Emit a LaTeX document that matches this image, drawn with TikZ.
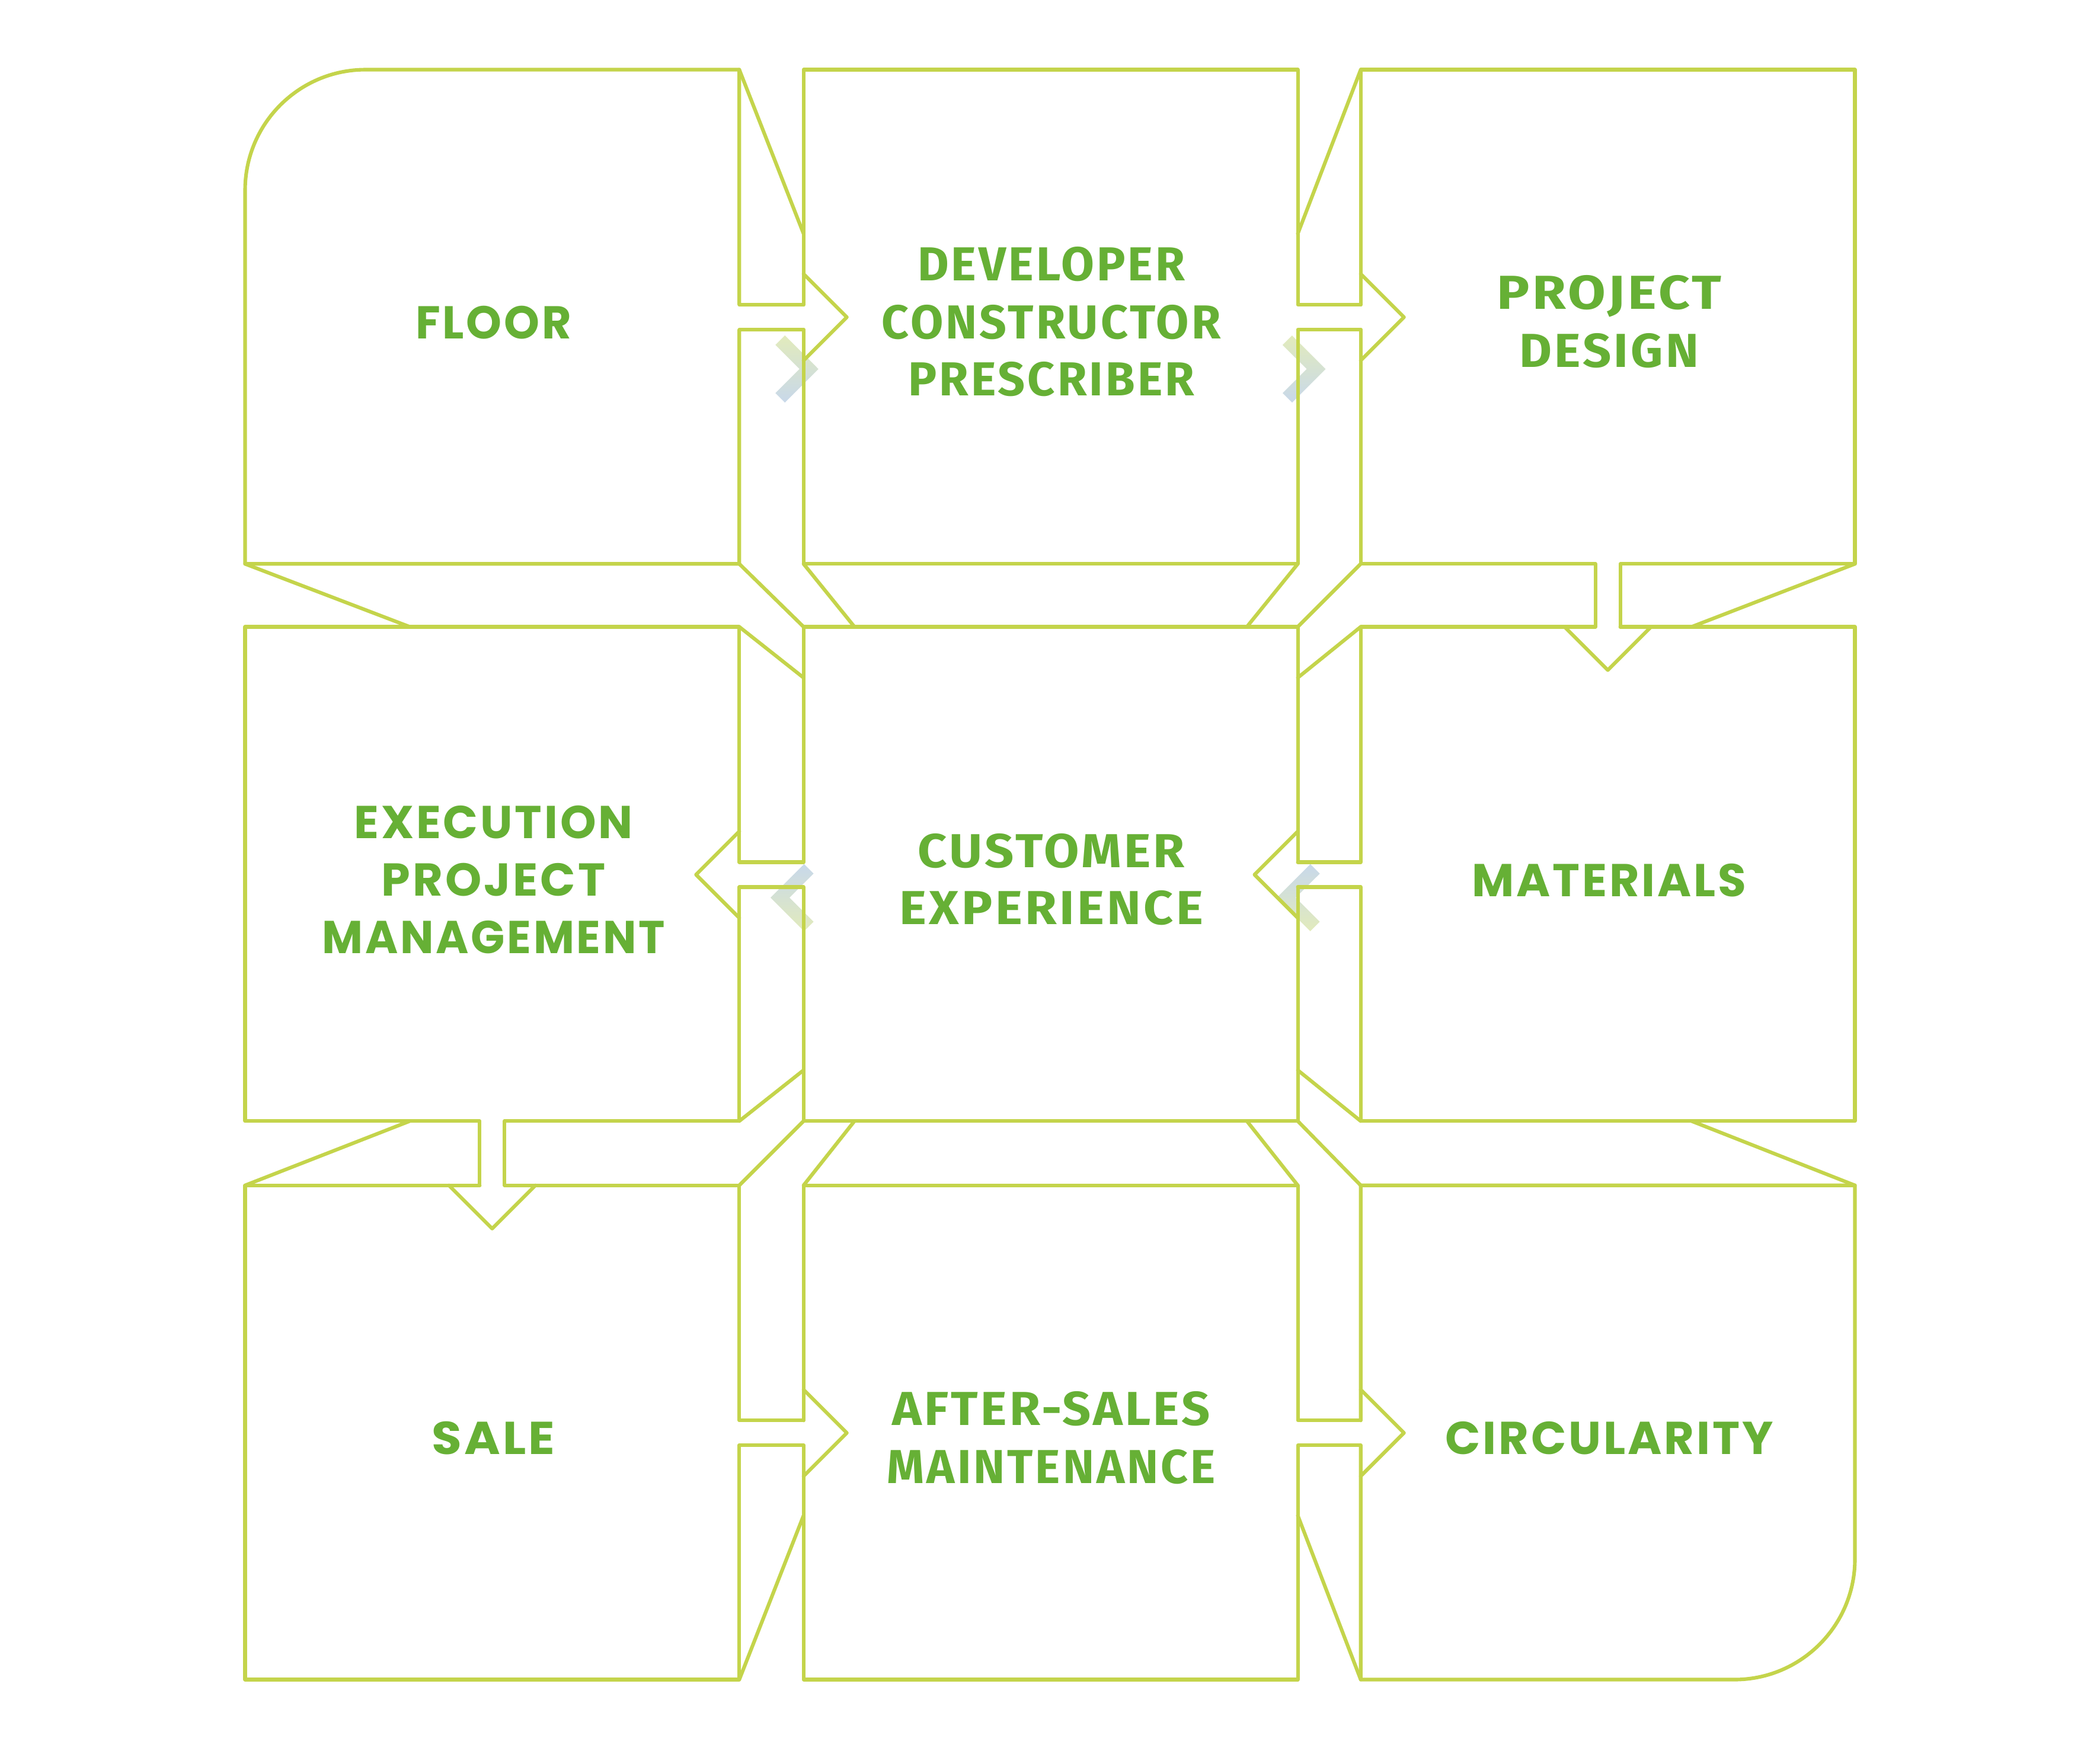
\documentclass[tikz,border=0pt]{standalone}
\usepackage{fontspec}
\usepackage{graphicx}
\newfontfamily\dinf{Fira Sans}[LetterSpace=5]
\newfontfamily\widef{Poppins}[LetterSpace=5]
\definecolor{linec}{RGB}{196,212,75}
\definecolor{txtc}{RGB}{102,176,53}
\definecolor{chg}{RGB}{226,235,188}
\definecolor{chb}{RGB}{200,216,234}
\newsavebox\fitbox
\newcommand\fitw[2]{\sbox\fitbox{#2}\pgfmathsetmacro\fitfac{#1/\the\wd\fitbox}\scalebox{\fitfac}[1]{\usebox\fitbox}}
\newcommand\chevright[4]{\shade[top color=#3,bottom color=#4]
  (#1-17.96,#2-25.04) -- (#1+7.07,#2) -- (#1-17.96,#2+25.04) -- (#1-25.04,#2+17.96) -- (#1-7.07,#2) -- (#1-25.04,#2-17.96) -- cycle;}
\newcommand\chevleft[4]{\shade[top color=#3,bottom color=#4]
  (#1+17.96,#2-25.04) -- (#1-7.07,#2) -- (#1+17.96,#2+25.04) -- (#1+25.04,#2+17.96) -- (#1+7.07,#2) -- (#1+25.04,#2-17.96) -- cycle;}
\tikzset{
  ln/.style={draw=linec, line width=1.35pt, line join=round, line cap=round},
  lbl/.style={text=txtc, inner sep=0pt, text height=12pt, text depth=0pt, anchor=center},
  dinlbl/.style={lbl, font=\dinf\bfseries\fontsize{17.8pt}{20pt}\selectfont},
  widelbl/.style={lbl, font=\widef\bfseries\fontsize{17.2pt}{20pt}\selectfont},
}
\begin{document}
\begin{tikzpicture}[x=0.5pt,y=-0.5pt]
\useasboundingbox (0,0) rectangle (1568,1307);
% chevrons (under the lines)
\chevright{604}{275.5}{chg}{chb}
\chevright{982.7}{275.5}{chg}{chb}
\chevleft{582.4}{670.2}{chb}{chg}
\chevleft{960.4}{670.2}{chb}{chg}
% FLOOR
\draw[ln] (600,227.5) -- (552,227.5) -- (552,52) -- (273,52) .. controls (223.3,52) and (183,92.3) .. (183,142) -- (183,421) -- (552,421) -- (552,246.1) -- (600,246.1);
% DEVELOPER
\draw[ln] (600,227.5) -- (600,52) -- (969,52) -- (969,227.5) -- (1016,227.5);
\draw[ln] (600,246.1) -- (600,421) -- (969,421) -- (969,246.1) -- (1016,246.1);
\draw[ln] (600,204.5) -- (632.3,236.8) -- (600,269.1);
% PROJECT DESIGN
\draw[ln] (1016,227.5) -- (1016,52) -- (1385,52) -- (1385,421) -- (1209.8,421) -- (1209.8,468);
\draw[ln] (1016,246.1) -- (1016,421) -- (1191.2,421) -- (1191.2,468);
\draw[ln] (1016,204.5) -- (1048.3,236.8) -- (1016,269.1);
% MATERIALS
\draw[ln] (1191.2,468) -- (1016,468) -- (1016,643.7) -- (969,643.7);
\draw[ln] (1209.8,468) -- (1385,468) -- (1385,837) -- (1016,837) -- (1016,662.3) -- (969,662.3);
\draw[ln] (1168.2,468) -- (1200.5,500.3) -- (1232.8,468);
% CUSTOMER EXPERIENCE
\draw[ln] (969,643.7) -- (969,468) -- (600,468) -- (600,643.7) -- (552,643.7);
\draw[ln] (969,662.3) -- (969,837) -- (600,837) -- (600,662.3) -- (552,662.3);
\draw[ln] (969,620.7) -- (936.7,653) -- (969,685.3);
% EXECUTION
\draw[ln] (552,643.7) -- (552,468) -- (183,468) -- (183,837) -- (358.2,837) -- (358.2,885);
\draw[ln] (552,662.3) -- (552,837) -- (376.8,837) -- (376.8,885);
\draw[ln] (552,620.7) -- (519.7,653) -- (552,685.3);
% SALE
\draw[ln] (358.2,885) -- (183,885) -- (183,1254) -- (552,1254) -- (552,1079.1) -- (600,1079.1);
\draw[ln] (376.8,885) -- (552,885) -- (552,1060.5) -- (600,1060.5);
\draw[ln] (335.2,885) -- (367.5,917.3) -- (399.8,885);
% AFTER-SALES
\draw[ln] (600,1060.5) -- (600,885) -- (969,885) -- (969,1060.5) -- (1016,1060.5);
\draw[ln] (600,1079.1) -- (600,1254) -- (969,1254) -- (969,1079.1) -- (1016,1079.1);
\draw[ln] (600,1037.5) -- (632.3,1069.8) -- (600,1102.1);
% CIRCULARITY
\draw[ln] (1016,1060.5) -- (1016,885) -- (1385,885) -- (1385,1164) .. controls (1385,1213.7) and (1344.7,1254) .. (1295,1254) -- (1016,1254) -- (1016,1079.1);
\draw[ln] (1016,1037.5) -- (1048.3,1069.8) -- (1016,1102.1);
% diagonals
\draw[ln] (552,52) -- (600,174.5);
\draw[ln] (1016,52) -- (969,174.5);
\draw[ln] (552,1254) -- (600,1131.5);
\draw[ln] (1016,1254) -- (969,1131.5);
\draw[ln] (552,468) -- (600,506);
\draw[ln] (552,837) -- (600,799);
\draw[ln] (1016,468) -- (969,506);
\draw[ln] (1016,837) -- (969,799);
\draw[ln] (552,421) -- (600,468);
\draw[ln] (1016,421) -- (969,468);
\draw[ln] (552,885) -- (600,837);
\draw[ln] (1016,885) -- (969,837);
\draw[ln] (600,421) -- (638,468);
\draw[ln] (969,421) -- (931,468);
\draw[ln] (600,885) -- (638,837);
\draw[ln] (969,885) -- (931,837);
\draw[ln] (183,421) -- (306,468);
\draw[ln] (306,837) -- (183,885);
\draw[ln] (1385,421) -- (1263,468);
\draw[ln] (1263,837) -- (1385,885);
% labels
\node[widelbl] (floor) at (368.5,240.7) {\fitw{58.2}{FLOOR}};
\node[dinlbl] (dev1) at (785,197.7) {\fitw{99.9}{DEVELOPER}};
\node[dinlbl] (dev2) at (785,240.7) {\fitw{126.6}{CONSTRUCTOR}};
\node[dinlbl] (dev3) at (785,283.6) {\fitw{106.9}{PRESCRIBER}};
\node[dinlbl] (pd1) at (1201.5,219) {\fitw{84}{PROJECT}};
\node[dinlbl] (pd2) at (1201.5,262) {\fitw{67}{DESIGN}};
\node[widelbl] (ex1) at (368.5,614) {\fitw{104}{EXECUTION}};
\node[widelbl] (ex2) at (368.5,657) {\fitw{83.5}{PROJECT}};
\node[widelbl] (ex3) at (368.5,700) {\fitw{128}{MANAGEMENT}};
\node[dinlbl] (cu1) at (785,635.8) {\fitw{99.6}{CUSTOMER}};
\node[dinlbl] (cu2) at (785,678.3) {\fitw{113.4}{EXPERIENCE}};
\node[widelbl] (mat) at (1201.5,657.5) {\fitw{102.5}{MATERIALS}};
\node[widelbl] (sale) at (368.5,1074) {\fitw{46}{SALE}};
\node[dinlbl] (as1) at (785,1052) {\fitw{118.6}{AFTER-SALES}};
\node[dinlbl] (as2) at (785,1095.3) {\fitw{122.6}{MAINTENANCE}};
\node[widelbl] (circ) at (1201.5,1074) {\fitw{122.5}{CIRCULARITY}};
\end{tikzpicture}
\end{document}
